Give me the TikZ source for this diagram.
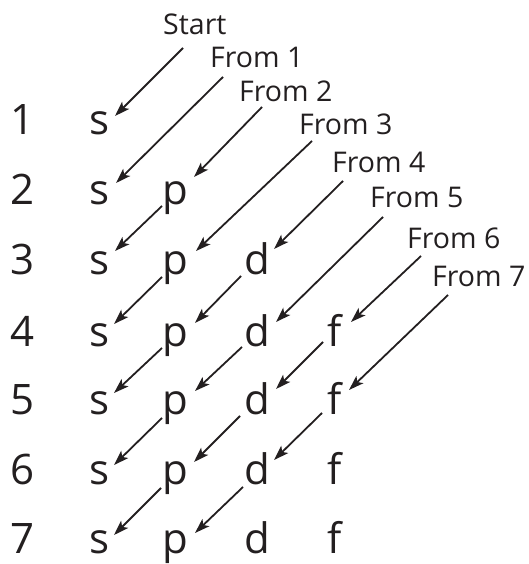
\documentclass[tikz,border=0pt]{standalone}
\usepackage{fontspec}
\setmainfont{Open Sans}
\usetikzlibrary{arrows.meta}
\definecolor{ink}{RGB}{35,31,32}
\begin{document}
\begin{tikzpicture}[x=1pt,y=1pt,
  big/.style={font=\fontsize{42}{42}\selectfont, inner sep=0pt, anchor=base, text=ink},
  lab/.style={font=\fontsize{28.5}{30}\selectfont, inner sep=0pt, anchor=base west, text=ink},
  arr/.style={draw=ink, line width=1.8pt, -{Stealth[length=15pt,width=10pt,inset=3.5pt]}}]
\useasboundingbox (0,0) rectangle (529,564);
% rows
\foreach \r/\y in {1/429,2/359,3/289,4/217,5/149,6/79,7/10}{
  \node[big] (n\r) at (23,\y) {\r};
  \node[big] (s\r) at (100,\y) {s};
}
\foreach \r/\y in {2/359,3/289,4/217,5/149,6/79,7/10}{
  \node[big] (p\r) at (175,\y) {p};
}
\foreach \r/\y in {3/289,4/217,5/149,6/79,7/10}{
  \node[big] (d\r) at (257,\y) {d};
}
\foreach \r/\y in {4/217,5/149,6/79,7/10}{
  \node[big] (f\r) at (335,\y) {f};
}
% labels
\node[lab] (L0) at (163,529) {Start};
\node[lab] (L1) at (210,496) {From 1};
\node[lab] (L2) at (239,462) {From 2};
\node[lab] (L3) at (299,429) {From 3};
\node[lab] (L4) at (332,391) {From 4};
\node[lab] (L5) at (370,356) {From 5};
\node[lab] (L6) at (407,315) {From 6};
\node[lab] (L7) at (432,277) {From 7};
% label arrows
\draw[arr] ([shift={(20,-13)}]L0.base west) -- ([shift={(15,19)}]s1.base);
\draw[arr] ([shift={(13,-9)}]L1.base west) -- ([shift={(16,22)}]s2.base);
\draw[arr] ([shift={(23,-5)}]L2.base west) -- ([shift={(19,28)}]p2.base);
\draw[arr] ([shift={(13,-6)}]L3.base west) -- ([shift={(21,24)}]p3.base);
\draw[arr] ([shift={(11,-8)}]L4.base west) -- ([shift={(17,26)}]d3.base);
\draw[arr] ([shift={(13,-9)}]L5.base west) -- ([shift={(19,25)}]d4.base);
\draw[arr] ([shift={(14,-7)}]L6.base west) -- ([shift={(16,25)}]f4.base);
\draw[arr] ([shift={(16,-8)}]L7.base west) -- ([shift={(14,25)}]f5.base);
% diagonal arrows
\draw[arr] ([shift={(-13,-1)}]p2.base) -- ([shift={(15,24)}]s3.base);
\draw[arr] ([shift={(-13,-2)}]p3.base) -- ([shift={(14,23)}]s4.base);
\draw[arr] ([shift={(-16,-1)}]d3.base) -- ([shift={(20,24)}]p4.base);
\draw[arr] ([shift={(-13,-1)}]p4.base) -- ([shift={(14,22)}]s5.base);
\draw[arr] ([shift={(-15,0)}]d4.base) -- ([shift={(20,24)}]p5.base);
\draw[arr] ([shift={(-12,5)}]f4.base) -- ([shift={(19,26)}]d5.base);
\draw[arr] ([shift={(-13,-3)}]p5.base) -- ([shift={(14,20)}]s6.base);
\draw[arr] ([shift={(-17,-1)}]d5.base) -- ([shift={(19,23)}]p6.base);
\draw[arr] ([shift={(-13,2)}]f5.base) -- ([shift={(17,25)}]d6.base);
\draw[arr] ([shift={(-14,-3)}]p6.base) -- ([shift={(14,19)}]s7.base);
\draw[arr] ([shift={(-14,-2)}]d6.base) -- ([shift={(20,21)}]p7.base);
\end{tikzpicture}
\end{document}
